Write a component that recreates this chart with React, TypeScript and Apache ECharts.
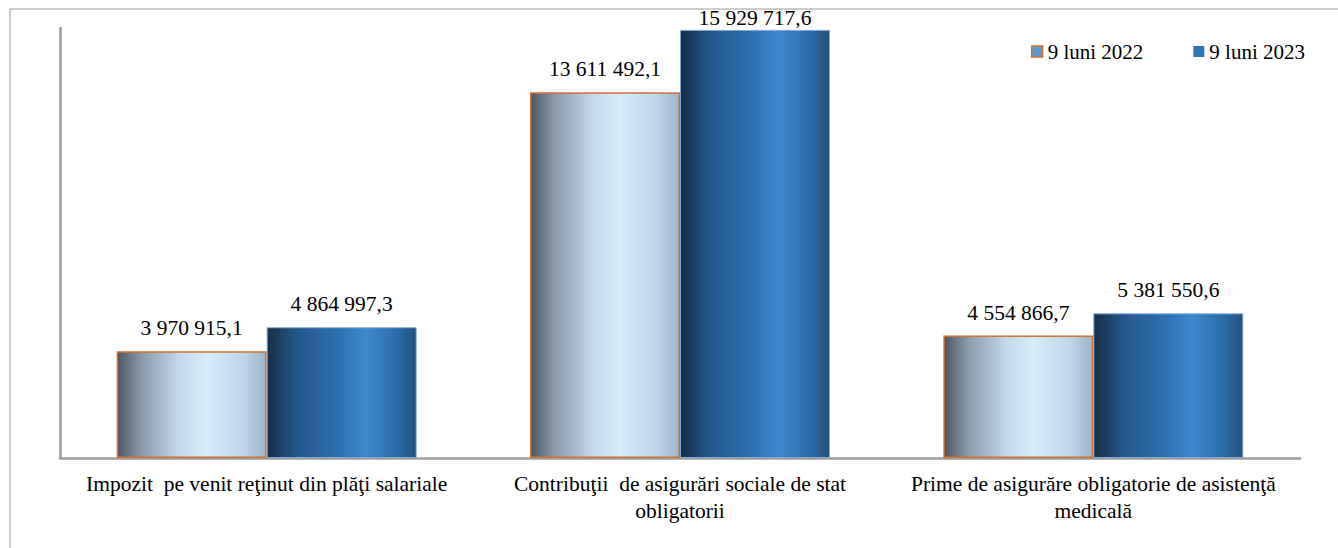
import React, { useEffect, useRef } from "react";
import * as echarts from "echarts";

const categories = [
  "Impozit  pe venit reţinut din plăţi salariale",
  "Contribuţii  de asigurări sociale de stat\nobligatorii",
  "Prime de asigurăre obligatorie de asistenţă\nmedicală",
];
const seriesNames = ["9 luni 2022", "9 luni 2023"];
const values2022 = [3970915.1, 13611492.1, 4554866.7];
const values2023 = [4864997.3, 15929717.6, 5381550.6];
const yMax = 16000000;

const FONT = "Liberation Serif";

function fmt(v: number): string {
  const [i, d] = v.toFixed(1).split(".");
  return i.replace(/\B(?=(\d{3})+(?!\d))/g, " ") + "," + d;
}

const grad2022 = new echarts.graphic.LinearGradient(0, 0, 1, 0, [
  { offset: 0, color: "#4b5661" },
  { offset: 0.15, color: "#8797a8" },
  { offset: 0.42, color: "#c3d9ec" },
  { offset: 0.6, color: "#d6edfc" },
  { offset: 0.85, color: "#bdd4ea" },
  { offset: 1, color: "#9eb4c9" },
]);
const grad2023 = new echarts.graphic.LinearGradient(0, 0, 1, 0, [
  { offset: 0, color: "#162f4b" },
  { offset: 0.2, color: "#245789" },
  { offset: 0.5, color: "#2f73b3" },
  { offset: 0.66, color: "#3d89cd" },
  { offset: 0.88, color: "#2c69a5" },
  { offset: 1, color: "#21507d" },
]);

function labelData(vals: number[]) {
  const maxAll = Math.max(...values2022, ...values2023);
  return vals.map((v) =>
    v === maxAll ? { value: v, label: { distance: 1 } } : { value: v }
  );
}

export default function App() {
  const ref = useRef<HTMLDivElement>(null);
  useEffect(() => {
    if (!ref.current) return;
    const chart = echarts.init(ref.current, undefined, { renderer: "svg" });
    const labelStyle = {
      show: true,
      position: "top",
      distance: 12,
      fontFamily: FONT,
      fontSize: 21.5,
      color: "#000",
      formatter: (p: any) => fmt(p.value),
    };
    chart.setOption({
      animation: false,
      backgroundColor: "#ffffff",
      textStyle: { fontFamily: FONT },
      graphic: [
        {
          type: "rect",
          shape: { x: 10, y: 9, width: 1400, height: 600 },
          style: { fill: "none", stroke: "#9a9a9a", lineWidth: 1 },
          silent: true,
          z: -10,
        },
      ],
      legend: {
        right: 33,
        top: 41,
        padding: 0,
        icon: "rect",
        itemWidth: 11,
        itemHeight: 11,
        itemGap: 50,
        textStyle: { fontFamily: FONT, fontSize: 21, color: "#000" },
        data: [
          {
            name: seriesNames[0],
            itemStyle: { color: "#5b9bd5", borderColor: "#d0702f", borderWidth: 1.5 },
          },
          { name: seriesNames[1], itemStyle: { color: "#2e75b6", borderWidth: 0 } },
        ],
      },
      grid: { left: 60, right: 38, top: 28, bottom: 90 },
      xAxis: {
        type: "category",
        data: categories,
        axisLine: { lineStyle: { color: "#9c9c9c", width: 2.5 } },
        axisTick: { show: false },
        axisLabel: {
          interval: 0,
          margin: 12,
          lineHeight: 27,
          fontFamily: FONT,
          fontSize: 21.5,
          color: "#000",
        },
      },
      yAxis: {
        type: "value",
        min: 0,
        max: yMax,
        axisLine: { show: true, lineStyle: { color: "#9c9c9c", width: 2.5 } },
        axisTick: { show: false },
        axisLabel: { show: false },
        splitLine: { show: false },
      },
      series: [
        {
          name: seriesNames[0],
          type: "bar",
          data: labelData(values2022),
          barWidth: 150,
          barGap: "0%",
          itemStyle: { color: grad2022, borderColor: "#d2722f", borderWidth: 1.5 },
          label: labelStyle,
        },
        {
          name: seriesNames[1],
          type: "bar",
          data: labelData(values2023),
          barWidth: 150,
          barGap: "0%",
          itemStyle: { color: grad2023, borderColor: "#7fa9d6", borderWidth: 1 },
          label: labelStyle,
        },
      ],
    });
    return () => chart.dispose();
  }, []);
  return (
    <div
      ref={ref}
      style={{ position: "fixed", left: 0, top: 0, width: 1338, height: 548 }}
    />
  );
}
